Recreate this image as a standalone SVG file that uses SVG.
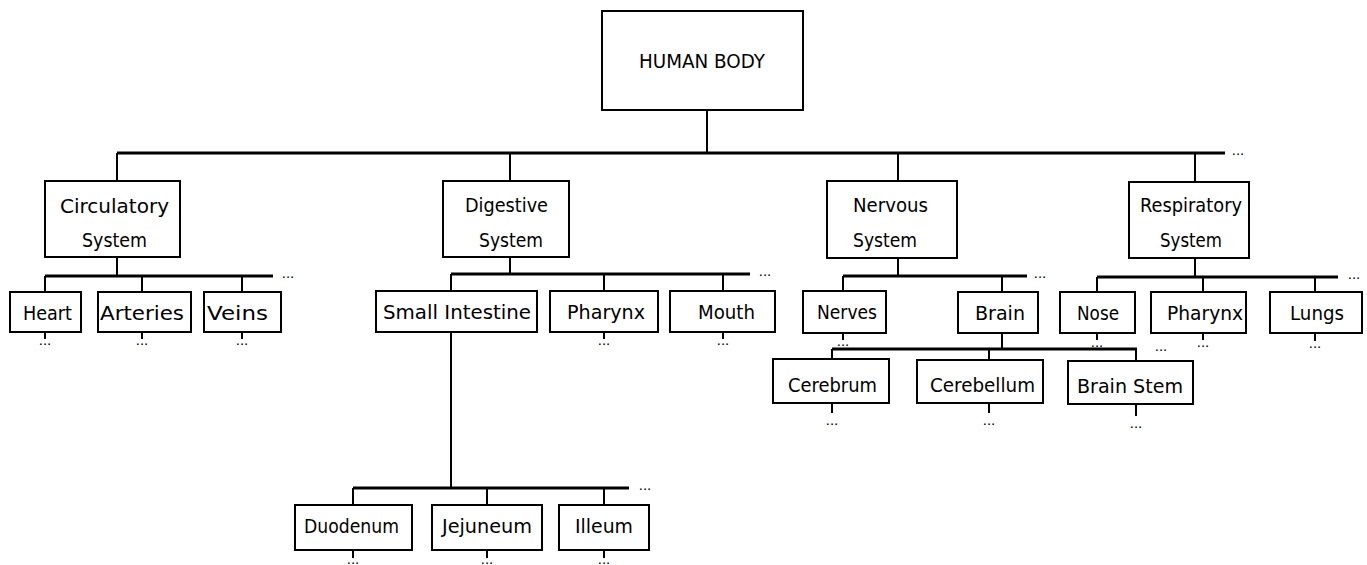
<svg xmlns="http://www.w3.org/2000/svg" width="1367" height="565" viewBox="0 0 1367 565">
<style>
  .box{fill:#fff;stroke:#000;stroke-width:2}
  .t{font-family:"DejaVu Sans","Liberation Sans",sans-serif;font-size:20px;fill:#000}
  .ln{stroke:#000;stroke-width:2;fill:none}
  .bus{stroke:#000;stroke-width:3;fill:none}
  .dots{font-family:"Liberation Sans",sans-serif;font-size:15px;fill:#000;text-anchor:middle}
</style>
<rect width="1367" height="565" fill="#fff"/>
<g id="connectors">
  <path class="ln" d="M707 110V153"/>
  <path class="bus" d="M117 153H1225"/>
  <path class="ln" d="M117 153V181M510 153V181M898 153V181M1195 153V182"/>
  <text class="dots" x="1238" y="155">...</text>
  <!-- circulatory -->
  <path class="ln" d="M117 257V276"/>
  <path class="bus" d="M45 276H273"/>
  <path class="ln" d="M45 276V292M142 276V292M242 276V292"/>
  <text class="dots" x="288" y="278">...</text>
  <!-- digestive -->
  <path class="ln" d="M510 257V274"/>
  <path class="bus" d="M451 274H750"/>
  <path class="ln" d="M451 274V291M604 274V291M723 274V291"/>
  <text class="dots" x="765" y="276">...</text>
  <!-- nervous -->
  <path class="ln" d="M898 258V276"/>
  <path class="bus" d="M843 276H1027"/>
  <path class="ln" d="M843 276V291M1002 276V292"/>
  <text class="dots" x="1040" y="278">...</text>
  <!-- respiratory -->
  <path class="ln" d="M1195 258V277"/>
  <path class="bus" d="M1097 277H1338"/>
  <path class="ln" d="M1097 277V292M1203 277V292M1315 277V292"/>
  <text class="dots" x="1354" y="279">...</text>
  <!-- brain -->
  <path class="ln" d="M1002 333V349"/>
  <path class="bus" d="M832 349H1137"/>
  <path class="ln" d="M832 349V359M989 349V360M1136 349V361"/>
  <text class="dots" x="1161" y="351">...</text>
  <!-- small intestine -->
  <path class="ln" d="M451 332V488"/>
  <path class="bus" d="M353 488H629"/>
  <path class="ln" d="M353 488V505M487 488V505M604 488V505"/>
  <text class="dots" x="645" y="490">...</text>
  <!-- leaf ticks -->
  <path class="ln" d="M45 332V339M142 332V339M242 332V339M604 332V339M723 332V339M843 333V340M1097 333V340M1203 333V340M1315 333V341M832 403V413M989 403V413M1136 404V416M353 550V558M487 550V558M604 550V558"/>
  <g class="dots">
    <text x="45" y="345">...</text>
    <text x="142" y="345">...</text>
    <text x="242" y="345">...</text>
    <text x="604" y="345">...</text>
    <text x="723" y="345">...</text>
    <text x="843" y="346">...</text>
    <text x="1097" y="347">...</text>
    <text x="1203" y="347">...</text>
    <text x="1315" y="348">...</text>
    <text x="832" y="425">...</text>
    <text x="989" y="425">...</text>
    <text x="1136" y="428">...</text>
    <text x="353" y="564">...</text>
    <text x="487" y="564">...</text>
    <text x="604" y="564">...</text>
  </g>
</g>
<g id="human-body"><rect class="box" x="602" y="11" width="201" height="99"/><text class="t" x="639" y="68" textLength="126" lengthAdjust="spacingAndGlyphs">HUMAN BODY</text></g>
<g id="circulatory"><rect class="box" x="45" y="181" width="135" height="76"/><text class="t" x="60" y="213" textLength="109" lengthAdjust="spacingAndGlyphs">Circulatory</text><text class="t" x="82" y="247" textLength="65" lengthAdjust="spacingAndGlyphs">System</text></g>
<g id="digestive"><rect class="box" x="443" y="181" width="126" height="76"/><text class="t" x="465" y="212" textLength="83" lengthAdjust="spacingAndGlyphs">Digestive</text><text class="t" x="479" y="247" textLength="64" lengthAdjust="spacingAndGlyphs">System</text></g>
<g id="nervous"><rect class="box" x="827" y="181" width="130" height="77"/><text class="t" x="853" y="212" textLength="75" lengthAdjust="spacingAndGlyphs">Nervous</text><text class="t" x="853" y="247" textLength="64" lengthAdjust="spacingAndGlyphs">System</text></g>
<g id="respiratory"><rect class="box" x="1129" y="182" width="120" height="76"/><text class="t" x="1140" y="212" textLength="102" lengthAdjust="spacingAndGlyphs">Respiratory</text><text class="t" x="1160" y="247" textLength="62" lengthAdjust="spacingAndGlyphs">System</text></g>
<g id="heart"><rect class="box" x="10" y="292" width="71" height="40"/><text class="t" x="23" y="320" textLength="49" lengthAdjust="spacingAndGlyphs">Heart</text></g>
<g id="arteries"><rect class="box" x="98" y="292" width="93" height="40"/><text class="t" x="100" y="320" textLength="84" lengthAdjust="spacingAndGlyphs">Arteries</text></g>
<g id="veins"><rect class="box" x="204" y="292" width="77" height="40"/><text class="t" x="207" y="320" textLength="61" lengthAdjust="spacingAndGlyphs">Veins</text></g>
<g id="small-intestine"><rect class="box" x="376" y="291" width="161" height="41"/><text class="t" x="383" y="319" textLength="148" lengthAdjust="spacingAndGlyphs">Small  Intestine</text></g>
<g id="pharynx-digestive"><rect class="box" x="550" y="291" width="108" height="41"/><text class="t" x="567" y="319" textLength="78" lengthAdjust="spacingAndGlyphs">Pharynx</text></g>
<g id="mouth"><rect class="box" x="670" y="291" width="105" height="41"/><text class="t" x="698" y="319" textLength="57" lengthAdjust="spacingAndGlyphs">Mouth</text></g>
<g id="nerves"><rect class="box" x="803" y="291" width="83" height="42"/><text class="t" x="817" y="319" textLength="60" lengthAdjust="spacingAndGlyphs">Nerves</text></g>
<g id="brain"><rect class="box" x="958" y="292" width="80" height="41"/><text class="t" x="975" y="320" textLength="50" lengthAdjust="spacingAndGlyphs">Brain</text></g>
<g id="nose"><rect class="box" x="1060" y="292" width="75" height="41"/><text class="t" x="1077" y="320" textLength="42" lengthAdjust="spacingAndGlyphs">Nose</text></g>
<g id="pharynx-respiratory"><rect class="box" x="1151" y="292" width="95" height="41"/><text class="t" x="1167" y="320" textLength="76" lengthAdjust="spacingAndGlyphs">Pharynx</text></g>
<g id="lungs"><rect class="box" x="1270" y="292" width="92" height="41"/><text class="t" x="1290" y="320" textLength="54" lengthAdjust="spacingAndGlyphs">Lungs</text></g>
<g id="cerebrum"><rect class="box" x="773" y="359" width="116" height="44"/><text class="t" x="788" y="392" textLength="89" lengthAdjust="spacingAndGlyphs">Cerebrum</text></g>
<g id="cerebellum"><rect class="box" x="917" y="360" width="126" height="43"/><text class="t" x="930" y="392" textLength="105" lengthAdjust="spacingAndGlyphs">Cerebellum</text></g>
<g id="brain-stem"><rect class="box" x="1068" y="361" width="125" height="43"/><text class="t" x="1077" y="393" textLength="106" lengthAdjust="spacingAndGlyphs">Brain  Stem</text></g>
<g id="duodenum"><rect class="box" x="295" y="505" width="117" height="45"/><text class="t" x="304" y="533" textLength="95" lengthAdjust="spacingAndGlyphs">Duodenum</text></g>
<g id="jejuneum"><rect class="box" x="432" y="505" width="110" height="45"/><text class="t" x="442" y="533" textLength="90" lengthAdjust="spacingAndGlyphs">Jejuneum</text></g>
<g id="illeum"><rect class="box" x="559" y="505" width="90" height="45"/><text class="t" x="575" y="533" textLength="58" lengthAdjust="spacingAndGlyphs">Illeum</text></g>
</svg>
